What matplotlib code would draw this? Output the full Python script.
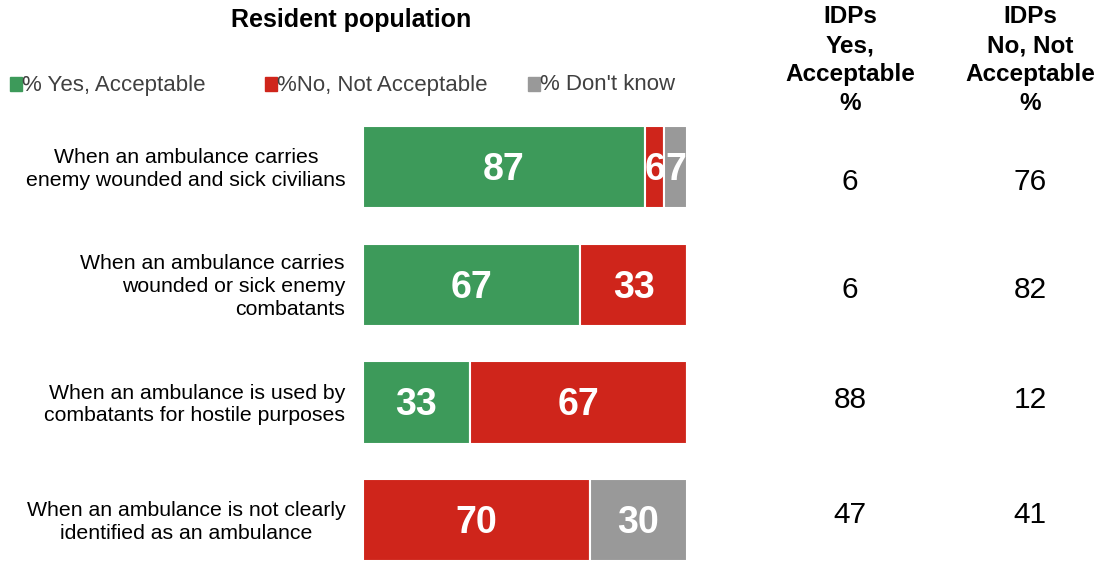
import matplotlib.pyplot as plt
import numpy as np

plt.rcParams['font.family'] = ['Liberation Sans', 'DejaVu Sans']

# resident population, % per answer
questions = [
    "When an ambulance carries\nenemy wounded and sick civilians",
    "When an ambulance carries\nwounded or sick enemy\ncombatants",
    "When an ambulance is used by\ncombatants for hostile purposes",
    "When an ambulance is not clearly\nidentified as an ambulance",
]
yes_pct = [87, 67, 33, 0]
no_pct = [6, 33, 67, 70]
dk_pct = [7, 0, 0, 30]

# IDP columns
idp_yes = [6, 6, 88, 47]
idp_no = [76, 82, 12, 41]

series_names = ["% Yes, Acceptable", "%No, Not Acceptable", "% Don't know"]
colors = ["#3d9a5a", "#cf251b", "#999999"]

W, H = 1102, 562
fig = plt.figure(figsize=(W / 100, H / 100), dpi=100)

# bar axes placed in pixel terms
x0, x1 = 363, 687
ax = fig.add_axes([x0 / W, 0, (x1 - x0) / W, (H - 108) / H])
step = 117.7
ax.set_ylim((H - 167) / step, -(167 - 108) / step)
ax.set_xlim(0, 100)
ax.axis('off')

ypos = np.arange(len(questions))
left = np.zeros(len(questions))
for vals, col in zip([yes_pct, no_pct, dk_pct], colors):
    vals = np.array(vals, dtype=float)
    ax.barh(ypos, vals, left=left, height=0.70, color=col,
            edgecolor='white', linewidth=1.5)
    for y, l, v in zip(ypos, left, vals):
        if v > 0:
            ax.text(l + v / 2, y + 0.025, f"{v:.0f}", ha='center',
                    va='center', color='white', fontsize=27,
                    fontweight='bold')
    left += vals


def fx(px):
    return px / W


def fy(py):
    return 1 - py / H


# question labels
aligns = ['center', 'right', 'right', 'center']
for i, (q, al) in enumerate(zip(questions, aligns)):
    xp = 186 if al == 'center' else 345
    fig.text(fx(xp), fy(169 + step * i), q, ha=al, va='center',
             fontsize=15.3, color='black', linespacing=1.25,
             multialignment=al)

# title and legend
fig.text(fx(351), fy(20), "Resident population", ha='center', va='center',
         fontsize=18, fontweight='bold')
leg_x = [10, 265, 528]
for lx, name, col in zip(leg_x, series_names, colors):
    fig.patches.append(plt.Rectangle((fx(lx), fy(91)), 12 / W, 14 / H,
                                     transform=fig.transFigure, color=col))
    fig.text(fx(lx + 12), fy(85), name, ha='left', va='center',
             fontsize=16, color='#404040')

# IDP columns
headers = ["IDPs\nYes,\nAcceptable\n%", "IDPs\nNo, Not\nAcceptable\n%"]
value_rows = [182, 290, 400, 515]
for cx, hdr, vals in zip([850, 1030], headers, [idp_yes, idp_no]):
    fig.text(fx(cx), fy(60), hdr, ha='center', va='center', fontsize=17.5,
             fontweight='bold', linespacing=1.32)
    for py, v in zip(value_rows, vals):
        fig.text(fx(cx), fy(py), str(v), ha='center', va='center',
                 fontsize=21.5)

fig.savefig("out.png", dpi=100)
